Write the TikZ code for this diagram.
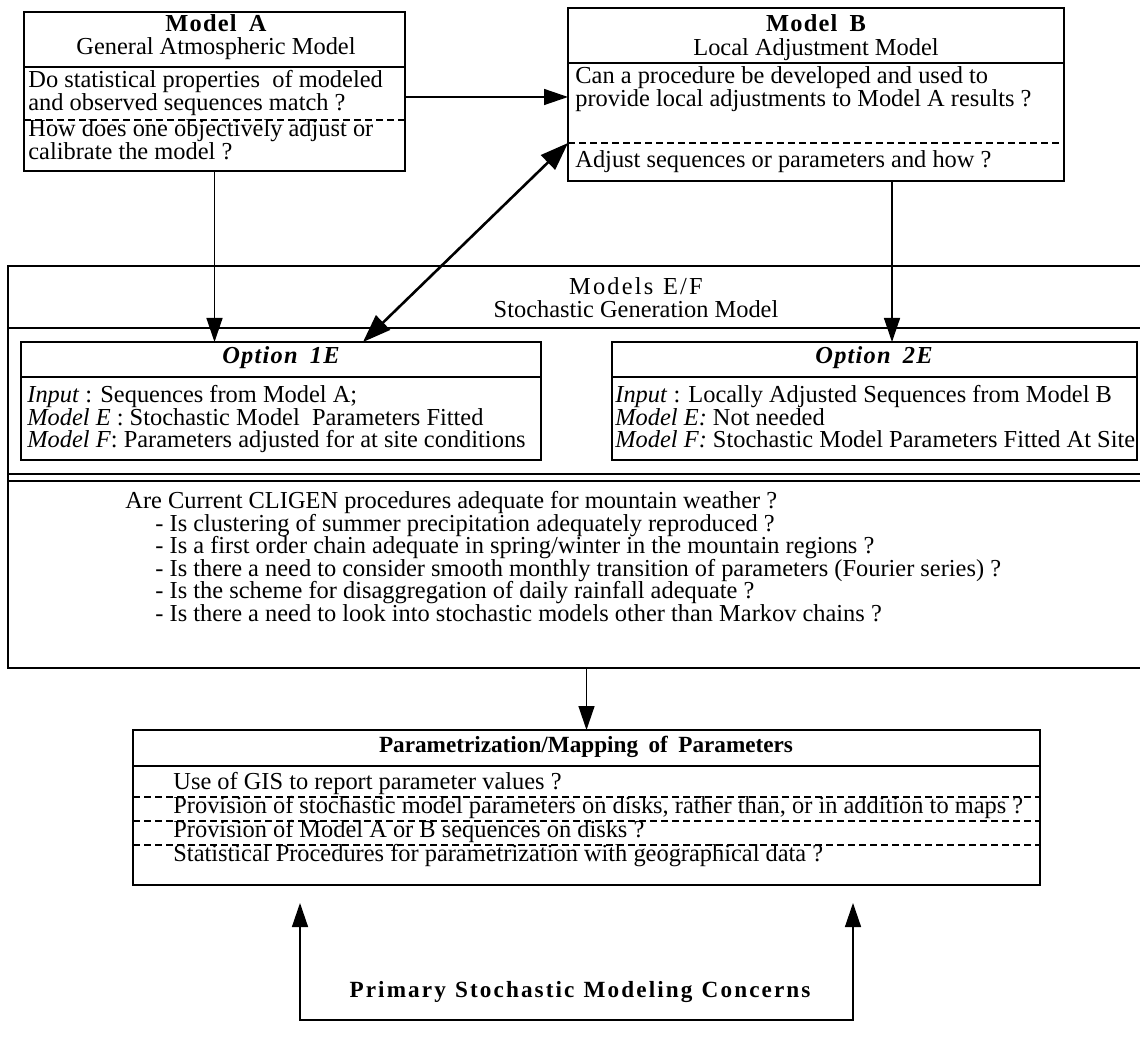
\documentclass[tikz,border=0pt]{standalone}
\usepackage{fontspec}
\setmainfont{Liberation Serif}
\newfontfamily\spacedfont[LetterSpace=5]{Liberation Serif}
\newfontfamily\widefont[LetterSpace=9]{Liberation Serif}
\usetikzlibrary{arrows.meta}
\tikzset{
  box/.style={draw, line width=0.9pt, inner sep=0pt, outer sep=0pt, anchor=north west},
  txt/.style={inner sep=0pt, anchor=mid west, font=\fontsize{12.2pt}{14pt}\selectfont},
  ctr/.style={inner sep=0pt, anchor=mid, font=\fontsize{12.2pt}{14pt}\selectfont},
  sepline/.style={line width=0.8pt},
  dsep/.style={line width=0.7pt, dash pattern=on 3.5pt off 2pt},
  arr/.style={line width=0.7pt, -{Triangle[length=12pt,width=8pt]}},
  dblarr/.style={line width=1.3pt, {Triangle[length=14pt,width=10pt]}-{Triangle[length=14pt,width=10pt]}},
}
\begin{document}
\begin{tikzpicture}[x=0.5pt,y=-0.5pt]
\useasboundingbox (0,0) rectangle (1140,1042);
\clip (0,0) rectangle (1140,1042);

% ---------- boxes ----------
\node[box, minimum width=190.5pt, minimum height=79.5pt] (mA) at (24,12) {};
\node[box, minimum width=248pt, minimum height=86.5pt] (mB) at (568,8) {};
\node[box, line width=1.4pt, minimum width=628pt, minimum height=201pt] (ef) at (8,266) {};
\node[box, minimum width=260pt, minimum height=59pt] (o1) at (21,342) {};
\node[box, minimum width=262.5pt, minimum height=59pt] (o2) at (612,342) {};
\node[box, minimum width=453.5pt, minimum height=77.5pt] (pb) at (133,730) {};

% ---------- separators ----------
\draw[sepline] (24,67) -- (405,67);
\draw[dsep] (24,120) -- (405,120);
\draw[sepline] (568,63) -- (1064,63);
\draw[dsep] (568,143) -- (1064,143);
\draw[sepline] (8,328) -- (1264,328);
\draw[sepline] (21,377) -- (541,377);
\draw[sepline] (612,377) -- (1137,377);
\draw[sepline] (8,474) -- (1264,474);
\draw[sepline] (8,481) -- (1264,481);
\draw[sepline] (133,766) -- (1040,766);
\draw[dsep] (133,797) -- (1040,797);
\draw[dsep] (133,821) -- (1040,821);
\draw[dsep] (133,845) -- (1040,845);

% ---------- Model A ----------
\node[ctr] (aT) at (216,27) {\spacedfont\bfseries Model\hspace{0.5em}A};
\node[ctr] (aS) at (216,50) {General Atmospheric Model};
\node[txt] (a1) at (28,83) {Do statistical properties\ \ of modeled};
\node[txt] (a2) at (28,106) {and observed sequences match ?};
\node[txt] (a3) at (28,132) {How does one objectively adjust or};
\node[txt] (a4) at (28,155) {calibrate the model ?};

% ---------- Model B ----------
\node[ctr] (bT) at (816,27) {\spacedfont\bfseries Model\hspace{0.5em}B};
\node[ctr] (bS) at (816,51) {Local Adjustment Model};
\node[txt] (b1) at (575,79) {Can a procedure be developed and used to};
\node[txt] (b2) at (575,102) {provide local adjustments to Model A results ?};
\node[txt] (b3) at (575,163) {Adjust sequences or parameters and how ?};

% ---------- Models E/F ----------
\node[ctr] (eT) at (636,290) {\widefont Models\hspace{0.4em}E/F};
\node[ctr] (eS) at (636,313) {Stochastic Generation Model};

\node[ctr] (o1T) at (281,359) {\spacedfont\bfseries\itshape Option\hspace{0.5em}1E};
\node[txt] (o1a) at (27,398) {\textit{Input} : Sequences from Model A;};
\node[txt] (o1b) at (27,420.5) {\textit{Model E} : Stochastic Model\ \ Parameters Fitted};
\node[txt] (o1c) at (27,443) {\textit{Model F}: Parameters adjusted for at site conditions};

\node[ctr] (o2T) at (874,359) {\spacedfont\bfseries\itshape Option\hspace{0.5em}2E};
\node[txt] (o2a) at (615,398) {\textit{Input} : Locally Adjusted Sequences from Model B};
\node[txt] (o2b) at (615,420.5) {\textit{Model E:} Not needed};
\node[txt] (o2c) at (615,443) {\textit{Model F:} Stochastic Model Parameters Fitted At Site};

\node[txt] (q0) at (125,504) {Are Current CLIGEN procedures adequate for mountain weather ?};
\node[txt] (q1) at (155,526.5) {- Is clustering of summer precipitation adequately reproduced ?};
\node[txt] (q2) at (155,549) {- Is a first order chain adequate in spring/winter in the mountain regions ?};
\node[txt] (q3) at (155,571.5) {- Is there a need to consider smooth monthly transition of parameters (Fourier series) ?};
\node[txt] (q4) at (155,594) {- Is the scheme for disaggregation of daily rainfall adequate ?};
\node[txt] (q5) at (155,616.5) {- Is there a need to look into stochastic models other than Markov chains ?};

% ---------- Parametrization ----------
\node[ctr, font=\fontsize{11.6pt}{14pt}\selectfont] (pT) at (586,748) {\bfseries Parametrization/Mapping\hspace{0.45em}of\hspace{0.45em}Parameters};
\node[txt] (p1) at (173,785) {Use of GIS to report parameter values ?};
\node[txt] (p2) at (173,809) {Provision of stochastic model parameters on disks, rather than, or in addition to maps ?};
\node[txt] (p3) at (173,833) {Provision of Model A or B sequences on disks ?};
\node[txt] (p4) at (173,857) {Statistical Procedures for parametrization with geographical data ?};

% ---------- bottom ----------
\node[ctr, font=\fontsize{11.6pt}{14pt}\selectfont] (pc) at (580,993) {\widefont\bfseries Primary\hspace{0.4em}Stochastic\hspace{0.4em}Modeling\hspace{0.4em}Concerns};

% ---------- connectors ----------
\coordinate (ab) at ([yshift=-2.75pt]mA.east);
\draw[arr] (ab) -- (ab -| mB.west);
\draw[arr] (mA.south) -- (mA.south |- o1.north);
\coordinate (bd) at ([xshift=38pt]mB.south);
\draw[arr] (bd) -- (bd |- o2.north);
\draw[dblarr] ([yshift=-24.25pt]mB.west) -- ([xshift=-89pt]o1.north east);
\draw[arr] (ef.south -| pb.north) -- (pb.north);

\coordinate (tl) at (300,903);
\coordinate (bl) at (300,1020);
\coordinate (br) at (853,1020);
\coordinate (tr) at (853,903);
\draw[line width=0.7pt, {Triangle[length=12pt,width=8pt]}-{Triangle[length=12pt,width=8pt]}] (tl) -- (bl) -- (br) -- (tr);
\end{tikzpicture}
\end{document}
